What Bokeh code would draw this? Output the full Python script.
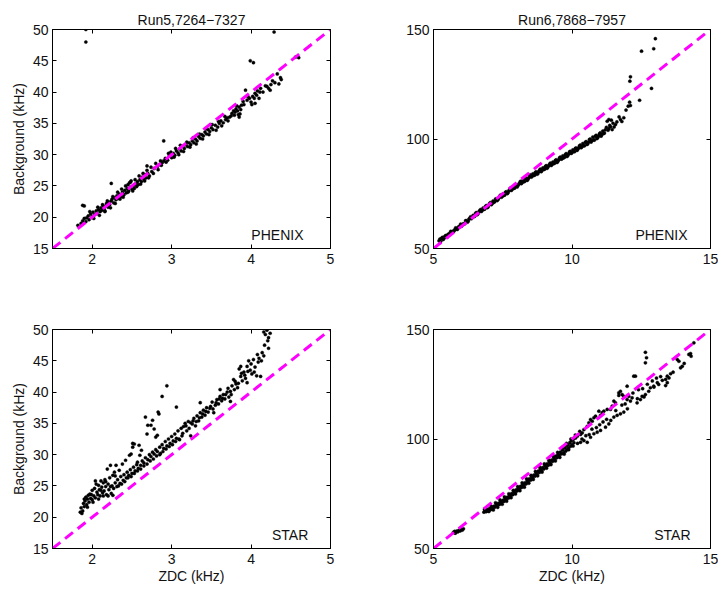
from bokeh.plotting import figure
from bokeh.layouts import column, row
from bokeh.models import LinearAxis, Label, FixedTicker, Range1d
from bokeh.embed import file_html
from bokeh.resources import INLINE

# ---------------- data ----------------
titles = ["Run5,7264\u22127327", "Run6,7868\u22127957"]
detectors = ["PHENIX", "STAR"]

run5_ticks_x = [2, 3, 4, 5]
run5_ticks_y = [15, 20, 25, 30, 35, 40, 45, 50]
run6_ticks_x = [5, 10, 15]
run6_ticks_y = [50, 100, 150]

# reference line background = 10 x ZDC
run5_ref_x = [1.5, 5.0]
run5_ref_y = [15.0, 50.0]
run6_ref_x = [5.0, 15.0]
run6_ref_y = [50.0, 150.0]

run5_phenix = [
    (1.82, 18.7), (1.86, 19.0), (1.88, 19.4), (1.90, 19.8), (1.92, 19.3), (1.93, 19.9),
    (1.95, 20.2), (1.96, 19.6), (1.98, 20.5), (2.00, 20.1), (2.01, 20.8), (2.03, 20.4),
    (2.05, 21.0), (2.06, 20.6), (2.08, 21.2), (2.10, 20.9), (2.11, 21.5), (2.12, 21.1),
    (2.14, 21.7), (2.15, 21.3), (2.16, 20.9), (2.17, 21.8), (2.18, 22.2), (2.20, 21.6),
    (2.21, 22.4), (2.22, 22.0), (2.24, 22.6), (2.25, 22.9), (2.27, 22.3), (2.28, 23.1),
    (2.30, 22.8), (2.31, 23.4), (2.33, 23.0), (2.34, 23.7), (2.36, 23.3), (2.38, 24.0),
    (2.40, 23.6), (2.41, 24.3), (2.43, 23.9), (2.44, 24.6), (2.45, 25.2), (2.46, 24.2),
    (2.47, 25.5), (2.48, 24.8), (2.49, 25.8), (2.50, 24.5), (2.52, 25.1), (2.53, 24.6),
    (2.55, 25.3), (2.57, 25.7), (2.58, 25.2), (2.60, 26.0), (2.62, 25.7), (2.63, 26.4),
    (2.65, 26.1), (2.67, 26.8), (2.68, 26.3), (2.70, 27.0), (2.72, 26.6), (2.75, 27.3),
    (2.78, 27.8), (2.82, 28.1), (2.85, 28.4), (2.86, 29.0), (2.88, 28.7), (2.90, 29.0),
    (2.92, 29.4), (2.95, 29.1), (2.97, 29.8), (3.00, 29.5), (3.02, 30.2), (3.04, 29.9),
    (3.06, 30.6), (3.08, 30.3), (3.10, 30.9), (3.12, 30.6), (3.14, 31.3), (3.16, 31.0),
    (3.18, 31.6), (3.20, 31.3), (3.22, 31.9), (3.24, 31.6), (3.26, 32.2), (3.28, 31.9),
    (3.30, 32.5), (3.32, 32.2), (3.34, 32.9), (3.36, 32.6), (3.38, 33.2), (3.40, 33.0),
    (3.42, 33.6), (3.44, 33.3), (3.46, 34.0), (3.48, 33.7), (3.50, 34.3), (3.52, 34.0),
    (3.55, 34.7), (3.58, 34.4), (3.60, 35.0), (3.62, 35.4), (3.65, 35.1), (3.68, 35.6),
    (3.70, 35.9), (3.73, 36.0), (3.76, 36.6), (3.78, 37.0), (3.80, 36.8), (3.81, 37.3),
    (3.83, 37.0), (3.85, 37.6), (3.86, 36.5), (3.88, 37.9), (3.90, 38.5), (3.93, 40.3),
    (3.95, 38.7), (3.98, 39.0), (4.00, 38.4), (4.02, 39.3), (4.05, 39.8), (4.08, 40.2),
    (4.12, 40.6), (4.15, 40.0), (4.20, 40.9), (4.22, 40.6), (4.25, 41.2), (4.30, 41.5),
    (4.33, 42.9), (4.37, 42.3), (4.38, 42.0), (4.56, 45.6), (4.60, 45.5),
    (1.88, 21.9), (1.90, 21.8), (2.24, 25.4), (2.90, 32.2), (2.69, 28.2), (3.99, 45.0),
    (4.03, 44.7), (4.29, 49.6), (1.92, 50.0), (1.92, 48.0), (3.85, 36.0), (4.05, 38.2),
    (4.10, 39.0),
    (1.97, 20.9), (2.02, 19.8), (2.07, 21.6), (2.09, 20.3), (2.13, 22.0), (2.16, 21.0),
    (2.19, 22.6), (2.23, 21.5), (2.26, 23.3), (2.29, 22.2), (2.32, 24.0), (2.35, 22.9),
    (2.37, 24.5), (2.39, 23.2), (2.42, 25.0), (2.45, 24.0), (2.48, 25.6), (2.51, 24.2),
    (2.54, 26.0), (2.56, 24.9), (2.59, 26.6), (2.61, 25.3), (2.64, 27.0), (2.66, 25.8),
    (2.69, 27.5), (2.71, 26.3), (2.74, 28.0), (2.77, 27.0), (2.80, 28.6), (2.83, 27.6),
    (2.87, 28.3), (2.93, 28.8), (2.96, 30.2), (2.99, 30.4), (3.03, 29.6), (3.05, 31.0),
    (3.09, 30.0), (3.11, 31.5), (3.15, 30.5), (3.19, 32.0), (3.23, 31.2), (3.27, 32.7),
    (3.31, 31.7), (3.35, 33.3), (3.39, 32.5), (3.43, 34.1), (3.47, 33.2), (3.51, 34.8),
    (3.56, 33.9), (3.59, 35.3), (3.63, 34.6), (3.67, 36.1), (3.71, 35.4), (3.75, 36.2),
    (3.79, 36.3), (3.82, 37.8), (3.84, 36.4), (3.87, 37.2), (3.91, 38.0), (3.96, 39.3),
    (4.01, 38.0), (4.04, 39.0), (4.07, 39.5), (4.11, 40.0), (4.18, 41.0), (4.24, 40.3),
    (4.27, 41.8), (4.35, 41.3),
]

run6_phenix = [
    (5.20, 53.5), (5.26, 53.2), (5.32, 55.1), (5.38, 54.7), (5.44, 55.9), (5.50, 55.3),
    (5.56, 56.6), (5.62, 57.8), (5.68, 57.4), (5.74, 58.0), (5.80, 59.4), (5.86, 58.7),
    (5.92, 60.0), (5.98, 61.1), (6.04, 60.7), (6.10, 61.2), (6.16, 62.7), (6.22, 62.0),
    (6.28, 63.4), (6.34, 64.5), (6.40, 64.1), (6.46, 64.6), (6.52, 66.1), (6.58, 65.4),
    (6.64, 66.7), (6.70, 67.8), (6.76, 67.5), (6.82, 67.9), (6.88, 69.3), (6.94, 68.6),
    (7.00, 69.9), (7.06, 71.0), (7.12, 70.6), (7.18, 71.1), (7.24, 72.6), (7.30, 71.9),
    (7.36, 73.1), (7.42, 74.4), (7.48, 73.8), (7.54, 74.3), (7.60, 75.7), (7.66, 75.0),
    (7.72, 76.3), (7.78, 77.6), (7.84, 77.0), (7.90, 77.5), (7.96, 78.9), (8.02, 78.1),
    (8.08, 79.4), (8.14, 80.7), (8.20, 80.1), (8.26, 80.5), (8.32, 81.9), (8.38, 81.1),
    (8.44, 82.3), (8.50, 83.6), (8.56, 83.0), (8.62, 83.4), (8.68, 84.8), (8.74, 83.9),
    (8.80, 85.1), (8.86, 86.3), (8.92, 85.7), (8.98, 86.1), (9.04, 87.5), (9.10, 86.6),
    (9.16, 87.8), (9.22, 89.0), (9.28, 88.4), (9.34, 88.8), (9.40, 90.2), (9.46, 89.3),
    (9.52, 90.5), (9.58, 91.7), (9.64, 91.0), (9.70, 91.4), (9.76, 92.9), (9.82, 92.0),
    (9.88, 93.2), (9.94, 94.4), (10.00, 93.8), (10.06, 94.3), (10.12, 95.7), (10.18, 94.8),
    (10.24, 96.0), (10.30, 97.2), (10.36, 96.5), (10.42, 97.0), (10.48, 98.5), (10.54, 97.5),
    (10.60, 98.6), (10.66, 99.9), (10.72, 99.2), (10.78, 99.6), (10.84, 101.2), (10.90, 100.2),
    (10.96, 101.4), (11.02, 102.8), (11.08, 102.1), (11.14, 102.5), (11.20, 104.2),
    (11.27, 108.1), (11.33, 108.9), (11.33, 104.7), (11.39, 105.6), (11.42, 108.6),
    (11.45, 104.3), (11.57, 106.6), (11.75, 108.9), (11.87, 109.7), (12.03, 115.0),
    (12.08, 116.8), (12.11, 115.3), (12.09, 126.4), (12.11, 128.4), (12.44, 117.7),
    (12.51, 140.1), (12.87, 123.1), (12.95, 141.2), (13.01, 145.8),
    (5.23, 54.3), (5.29, 54.6), (5.35, 54.1), (5.41, 55.5), (5.47, 55.9), (5.53, 56.5),
    (5.59, 56.8), (5.65, 57.6), (5.71, 57.9), (5.77, 58.6), (5.83, 58.9), (5.89, 59.6),
    (5.95, 60.0), (6.01, 60.2), (6.07, 61.3), (6.13, 61.3), (6.19, 62.6), (6.25, 62.4),
    (6.31, 63.8), (6.37, 63.6), (6.43, 65.1), (6.49, 64.7), (6.55, 66.4), (6.61, 66.0),
    (6.67, 67.3), (6.73, 66.9), (6.79, 68.5), (6.85, 68.0), (6.91, 69.6), (6.97, 69.0),
    (7.03, 70.6), (7.09, 70.0), (7.15, 71.7), (7.21, 71.4), (7.27, 72.7), (7.33, 72.4),
    (7.39, 73.9), (7.45, 73.4), (7.51, 74.9), (7.57, 74.4), (7.63, 75.9), (7.69, 75.4),
    (7.75, 76.9), (7.81, 76.5), (7.87, 77.9), (7.93, 77.6), (7.99, 78.9), (8.05, 78.8),
    (8.11, 80.0), (8.17, 79.6), (8.23, 81.1), (8.29, 80.6), (8.35, 82.0), (8.41, 81.6),
    (8.47, 83.1), (8.53, 82.6), (8.59, 84.1), (8.65, 83.5), (8.71, 85.0), (8.77, 84.3),
    (8.83, 85.8), (8.89, 85.1), (8.95, 86.8), (9.01, 86.2), (9.07, 87.8), (9.13, 87.2),
    (9.19, 88.5), (9.25, 87.9), (9.31, 89.5), (9.37, 88.9), (9.43, 90.5), (9.49, 89.8),
    (9.55, 91.4), (9.61, 90.8), (9.67, 92.3), (9.73, 91.7), (9.79, 93.3), (9.85, 92.5),
    (9.91, 94.1), (9.97, 93.4), (10.03, 95.0), (10.09, 94.2), (10.15, 95.9), (10.21, 95.3),
    (10.27, 96.9), (10.33, 96.0), (10.39, 97.9), (10.45, 96.9), (10.51, 98.8), (10.57, 97.8),
    (10.63, 99.8), (10.69, 98.6), (10.75, 100.9), (10.81, 99.5), (10.87, 101.7), (10.93, 100.6),
    (10.99, 102.3), (11.05, 101.3), (11.11, 103.6), (11.17, 102.7), (11.24, 105.3),
    (11.30, 104.0), (11.36, 106.2), (11.48, 107.2), (11.52, 105.5), (11.62, 107.8),
    (11.70, 110.1), (11.80, 108.0), (11.95, 113.2),
]

run5_star = [
    (1.85, 20.8), (1.86, 21.5), (1.88, 21.0), (1.89, 22.2), (1.90, 21.7), (1.91, 22.6),
    (1.92, 23.2), (1.93, 22.0), (1.94, 22.9), (1.95, 23.5), (1.96, 22.4), (1.97, 23.7),
    (1.98, 23.0), (2.00, 24.3), (2.00, 22.8), (2.02, 23.4), (2.03, 24.6), (2.04, 23.1),
    (2.05, 25.3), (2.06, 24.0), (2.07, 23.6), (2.08, 25.1), (2.09, 24.4), (2.10, 23.4),
    (2.11, 25.8), (2.12, 24.8), (2.13, 23.9), (2.14, 25.5), (2.15, 24.2), (2.16, 26.0),
    (2.17, 24.9), (2.18, 23.6), (2.19, 27.7), (2.20, 25.3), (2.21, 24.4), (2.22, 26.3),
    (2.23, 28.3), (2.24, 23.8), (2.25, 25.0), (2.26, 26.7), (2.27, 24.6), (2.28, 27.2),
    (2.29, 25.5), (2.30, 28.3), (2.31, 24.9), (2.32, 26.0), (2.34, 27.5), (2.35, 25.4),
    (2.36, 26.5), (2.38, 28.5), (2.39, 25.9), (2.40, 26.8), (2.42, 29.1), (2.43, 26.3),
    (2.44, 27.2), (2.46, 26.7), (2.47, 29.9), (2.48, 27.6), (2.49, 30.1), (2.50, 27.0),
    (2.51, 31.2), (2.51, 31.8), (2.52, 28.0), (2.53, 31.7), (2.54, 27.4), (2.56, 28.4),
    (2.57, 28.8), (2.58, 27.8), (2.59, 31.5), (2.60, 29.9), (2.61, 28.3), (2.62, 30.7),
    (2.63, 29.0), (2.65, 28.7), (2.67, 29.5), (2.67, 36.0), (2.69, 33.3), (2.70, 34.7),
    (2.70, 29.2), (2.72, 30.0), (2.74, 34.7), (2.74, 29.7), (2.76, 35.5), (2.76, 30.4),
    (2.78, 34.1), (2.78, 30.1), (2.80, 32.8), (2.80, 30.8), (2.82, 33.1), (2.82, 30.5),
    (2.83, 36.8), (2.84, 36.5), (2.85, 31.2), (2.86, 30.2), (2.88, 31.6), (2.88, 39.3),
    (2.94, 41.0), (2.90, 31.0), (2.92, 32.1), (2.94, 31.4), (2.96, 32.5), (2.98, 31.8),
    (3.00, 32.9), (3.02, 32.2), (3.04, 33.3), (3.06, 37.6), (3.06, 32.6), (3.08, 33.8),
    (3.10, 32.4), (3.12, 34.2), (3.14, 33.4), (3.15, 34.5), (3.17, 35.0), (3.19, 33.8),
    (3.21, 35.3), (3.24, 35.1), (3.24, 33.0), (3.26, 34.9), (3.28, 35.8), (3.30, 34.6),
    (3.32, 36.2), (3.34, 35.4), (3.36, 36.7), (3.36, 38.3), (3.38, 36.0), (3.40, 37.1),
    (3.42, 36.3), (3.44, 37.5), (3.46, 36.8), (3.49, 37.7), (3.51, 38.4), (3.53, 36.7),
    (3.55, 37.9), (3.57, 38.8), (3.59, 38.1), (3.61, 39.3), (3.61, 40.4), (3.63, 38.6),
    (3.65, 39.6), (3.67, 38.9), (3.70, 40.0), (3.72, 39.2), (3.74, 40.1), (3.74, 38.5),
    (3.76, 41.0), (3.78, 42.0), (3.79, 40.4), (3.81, 41.3), (3.83, 40.7), (3.85, 43.7),
    (3.87, 42.5), (3.87, 44.1), (3.89, 41.8), (3.91, 43.2), (3.93, 42.2), (3.95, 44.1),
    (3.95, 41.5), (3.97, 45.0), (3.99, 43.5), (4.01, 42.9), (4.03, 45.2), (4.05, 44.0),
    (4.07, 42.6), (4.08, 46.0), (4.10, 45.4), (4.12, 42.5), (4.14, 46.3), (4.16, 45.8),
    (4.16, 49.6), (4.18, 49.2), (4.20, 49.9), (4.22, 48.7), (4.22, 47.0), (4.24, 49.4),
    (1.87, 20.6), (1.90, 22.9), (1.94, 21.6), (1.99, 23.6), (2.01, 22.4), (2.04, 25.8),
    (2.08, 22.9), (2.11, 24.3), (2.14, 23.4), (2.17, 25.7), (2.20, 23.4), (2.23, 24.9),
    (2.26, 23.5), (2.29, 26.6), (2.33, 25.0), (2.37, 25.3), (2.41, 25.7), (2.45, 26.3),
    (2.49, 26.5), (2.53, 27.0), (2.57, 27.4), (2.61, 27.7), (2.65, 28.2), (2.69, 28.5),
    (2.73, 29.0), (2.77, 29.3), (2.81, 29.8), (2.85, 30.0), (2.89, 30.5), (2.93, 30.9),
    (2.97, 31.3), (3.01, 31.6), (3.05, 32.1), (3.09, 32.5), (3.13, 33.0), (3.18, 34.6),
    (3.22, 34.2), (3.27, 35.4), (3.31, 35.3), (3.35, 35.9), (3.39, 36.5), (3.43, 36.9),
    (3.48, 37.4), (3.52, 37.3), (3.56, 38.3), (3.60, 38.9), (3.64, 39.0), (3.68, 39.6),
    (3.71, 40.6), (3.75, 39.6), (3.80, 41.7), (3.84, 41.4), (3.88, 43.0), (3.92, 42.7),
    (3.96, 43.3), (4.00, 44.5), (4.04, 43.2), (4.09, 44.8), (4.13, 45.0), (4.17, 47.5),
    (4.21, 48.2),
]

run6_star = [
    (5.72, 57.4), (5.76, 57.8), (5.78, 57.0), (5.80, 57.2), (5.84, 58.0), (5.88, 57.6),
    (5.92, 58.3), (5.96, 58.0), (5.98, 58.9), (6.00, 58.7), (6.04, 58.4), (6.08, 59.0),
    (6.82, 66.6), (6.86, 67.2), (6.90, 66.8), (6.94, 67.6), (6.98, 67.1), (7.02, 68.2),
    (7.06, 67.7), (7.10, 68.6), (7.14, 68.3), (7.18, 69.3), (7.22, 68.9), (7.26, 70.0),
    (7.30, 69.5), (7.34, 70.6), (7.38, 70.1), (7.42, 71.3), (7.46, 70.9), (7.50, 72.0),
    (7.54, 71.5), (7.58, 72.8), (7.62, 72.3), (7.66, 73.4), (7.70, 73.0), (7.74, 74.2),
    (7.78, 73.8), (7.82, 75.1), (7.86, 74.6), (7.90, 75.9), (7.94, 75.4), (7.98, 76.8),
    (8.02, 76.3), (8.06, 77.5), (8.10, 77.1), (8.14, 78.4), (8.18, 77.9), (8.22, 79.2),
    (8.26, 78.8), (8.30, 80.0), (8.34, 79.5), (8.38, 80.9), (8.42, 80.4), (8.46, 81.8),
    (8.50, 81.2), (8.54, 82.6), (8.58, 82.1), (8.62, 83.5), (8.66, 83.0), (8.70, 84.4),
    (8.74, 83.8), (8.78, 85.3), (8.82, 84.7), (8.86, 86.0), (8.90, 85.5), (8.94, 86.9),
    (8.98, 86.3), (9.02, 87.8), (9.06, 87.3), (9.10, 88.7), (9.14, 88.0), (9.18, 89.6),
    (9.22, 88.9), (9.26, 90.4), (9.30, 89.8), (9.34, 91.3), (9.38, 90.6), (9.42, 92.2),
    (9.46, 91.5), (9.50, 93.0), (9.54, 92.3), (9.58, 94.0), (9.62, 93.2), (9.66, 94.9),
    (9.70, 93.7), (9.74, 95.8), (9.77, 94.4), (9.80, 96.7), (9.83, 95.2), (9.86, 97.4),
    (9.88, 96.0), (9.92, 98.3), (9.95, 96.7), (9.98, 99.2), (10.00, 97.5), (10.04, 99.8),
    (10.07, 98.3), (10.10, 100.6), (10.13, 100.5), (10.19, 101.3), (10.31, 102.1),
    (10.31, 98.5), (10.37, 102.8), (10.43, 104.3), (10.43, 99.3), (10.55, 98.5),
    (10.55, 105.8), (10.61, 107.4), (10.67, 100.8), (10.67, 108.9), (10.73, 108.1),
    (10.79, 109.7), (10.79, 102.4), (10.85, 110.4), (10.91, 103.1), (10.97, 112.7),
    (11.03, 103.9), (11.03, 110.8), (11.09, 112.0), (11.15, 112.7), (11.21, 105.4),
    (11.27, 113.5), (11.33, 106.9), (11.39, 113.5), (11.45, 115.0), (11.51, 110.0),
    (11.51, 117.3), (11.57, 116.5), (11.63, 110.8), (11.69, 121.1), (11.69, 119.9),
    (11.75, 111.5), (11.75, 121.8), (11.81, 120.3), (11.87, 112.3), (11.87, 119.5),
    (11.99, 124.1), (11.99, 118.0), (12.00, 113.8), (12.11, 117.3), (12.17, 118.8),
    (12.23, 128.7), (12.29, 128.7), (12.35, 116.5), (12.36, 118.4), (12.47, 118.0),
    (12.53, 119.5), (12.60, 119.2), (12.65, 120.3), (12.65, 139.6), (12.69, 137.1),
    (12.65, 134.8), (12.77, 121.8), (12.83, 123.4), (12.95, 124.1), (12.96, 123.7),
    (13.08, 125.7), (13.13, 124.9), (13.26, 126.8), (13.38, 127.2), (13.38, 124.4),
    (13.44, 128.7), (13.44, 125.7), (13.50, 127.9), (13.56, 129.8), (13.80, 136.3),
    (13.86, 135.5), (13.92, 132.5), (13.98, 133.2), (14.22, 138.6), (14.28, 139.0),
    (14.30, 137.8), (14.40, 143.9),
    (6.84, 67.9), (6.92, 68.0), (7.00, 66.9), (7.08, 69.4), (7.16, 67.6), (7.24, 70.9),
    (7.32, 68.8), (7.40, 72.2), (7.48, 70.2), (7.56, 73.6), (7.64, 71.6), (7.72, 75.0),
    (7.80, 73.2), (7.88, 76.6), (7.96, 74.9), (8.04, 78.3), (8.12, 76.4), (8.20, 80.0),
    (8.28, 78.0), (8.36, 81.8), (8.44, 79.8), (8.52, 83.4), (8.60, 81.5), (8.68, 85.2),
    (8.76, 83.2), (8.84, 87.0), (8.92, 84.9), (9.00, 88.6), (9.08, 86.7), (9.16, 90.4),
    (9.24, 88.3), (9.32, 92.1), (9.40, 90.0), (9.48, 93.9), (9.56, 91.6), (9.64, 96.0),
    (9.72, 93.1), (9.80, 98.0), (9.88, 95.1), (9.96, 100.0), (10.04, 96.8), (10.12, 101.8),
    (10.20, 98.0), (10.28, 103.5), (10.36, 100.0), (10.50, 101.5), (10.62, 102.0),
    (10.72, 104.5), (10.88, 105.2), (11.00, 106.5), (11.12, 107.8), (11.25, 109.0),
    (11.40, 108.5), (11.58, 113.0), (11.80, 115.5), (11.92, 116.0), (12.05, 119.5),
    (12.20, 121.0), (12.40, 122.5), (12.55, 123.0), (12.72, 125.0), (12.90, 126.5),
    (13.05, 127.8), (13.20, 128.5), (13.65, 130.5), (14.05, 134.5),
]

# ---------------- styling helpers ----------------
FONT = "Liberation Sans"
FS = "14px"
INK = "#111111"


def style_axis(ax, ticks, show_labels=True, label_standoff=4, title_standoff=2):
    ax.ticker = FixedTicker(ticks=ticks)
    ax.axis_line_color = "black"
    ax.axis_line_width = 1
    ax.major_tick_in = 4
    ax.major_tick_out = 0
    ax.major_tick_line_color = "black"
    ax.minor_tick_line_color = None
    ax.major_label_text_font = FONT
    if show_labels:
        ax.major_label_text_font_size = FS
        ax.major_label_text_color = INK
        ax.major_label_standoff = label_standoff
    else:
        ax.major_label_text_font_size = "0px"
        ax.major_label_text_color = None
        ax.major_label_text_alpha = 0
        ax.major_label_standoff = 0
    ax.axis_label_text_font = FONT
    ax.axis_label_text_font_size = FS
    ax.axis_label_text_font_style = "normal"
    ax.axis_label_text_color = INK
    ax.axis_label_standoff = title_standoff


def panel(points, xr, yr, xt, yt, refx, refy, det, lab_x, lab_y, width, height,
          borders, title=None, xlabel=None, ylabel=None):
    p = figure(width=width, height=height, output_backend="svg", toolbar_location=None,
               x_range=Range1d(*xr), y_range=Range1d(*yr),
               min_border_left=borders[0], min_border_right=borders[1],
               min_border_top=borders[2], min_border_bottom=borders[3])
    p.grid.visible = False
    p.outline_line_color = "black"
    p.background_fill_color = "white"
    p.border_fill_color = "white"
    style_axis(p.xaxis[0], xt, label_standoff=5, title_standoff=1)
    style_axis(p.yaxis[0], yt, label_standoff=4, title_standoff=3)
    if xlabel:
        p.xaxis[0].axis_label = xlabel
    if ylabel:
        p.yaxis[0].axis_label = ylabel
    top = LinearAxis()
    style_axis(top, xt, show_labels=False)
    p.add_layout(top, "above")
    right = LinearAxis()
    style_axis(right, yt, show_labels=False)
    p.add_layout(right, "right")
    if title:
        p.title.text = title
        p.title.align = "center"
        p.title.text_font = FONT
        p.title.text_font_size = FS
        p.title.text_font_style = "normal"
        p.title.text_color = INK
        p.title.standoff = 4
    xs = [a for a, b in points]
    ys = [b for a, b in points]
    p.scatter(xs, ys, size=3.2, fill_color="black", line_color="black", line_width=0.4)
    p.line(refx, refy, line_color="#FF00FF", line_width=3, line_dash="10 6")
    p.add_layout(Label(x=lab_x, y=lab_y, text=det, text_align="right",
                       text_baseline="middle", text_font=FONT, text_font_size=FS,
                       text_color=INK))
    return p


p1 = panel(run5_phenix, (1.5, 5), (15, 50), run5_ticks_x, run5_ticks_y,
           run5_ref_x, run5_ref_y, detectors[0], 4.66, 17.1, 360, 300,
           (52, 30, 29, 52), title=titles[0], ylabel="Background (kHz)")
p2 = panel(run6_phenix, (5, 15), (50, 150), run6_ticks_x, run6_ticks_y,
           run6_ref_x, run6_ref_y, detectors[0], 14.17, 56.0, 358, 300,
           (73, 8, 29, 52), title=titles[1])
p3 = panel(run5_star, (1.5, 5), (15, 50), run5_ticks_x, run5_ticks_y,
           run5_ref_x, run5_ref_y, detectors[1], 4.72, 17.1, 360, 292,
           (52, 30, 29, 44), xlabel="ZDC (kHz)", ylabel="Background (kHz)")
p4 = panel(run6_star, (5, 15), (50, 150), run6_ticks_x, run6_ticks_y,
           run6_ref_x, run6_ref_y, detectors[1], 14.28, 56.0, 358, 292,
           (73, 8, 29, 44), xlabel="ZDC (kHz)")

layout = column(row(p1, p2), row(p3, p4))

with open("out.html", "w") as f:
    f.write(file_html(layout, INLINE))
